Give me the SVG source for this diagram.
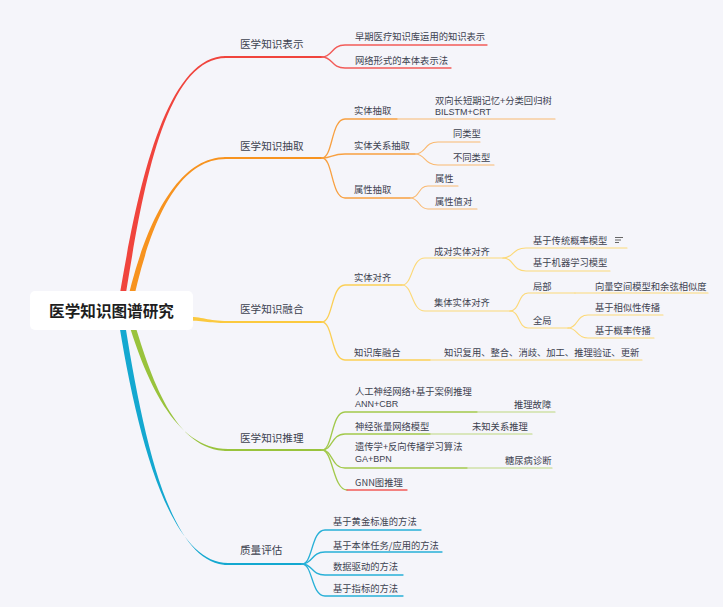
<svg xmlns="http://www.w3.org/2000/svg" width="723" height="607" viewBox="0 0 723 607">
<style>
text{font-family:"Noto Sans CJK SC","Noto Sans",sans-serif;fill:#3d4250}
.m{font-size:10.6px}
.c{font-size:9.3px}
.lat{font-family:"Liberation Sans","Noto Sans",sans-serif;font-size:9px}
.root{font-size:15.6px;font-weight:bold;fill:#1e1e1e}
.ln{fill:none;stroke-linecap:round}
.r{stroke:#f25b58;stroke-width:1.3}
.o{stroke:#f8a040;stroke-width:1.3}
.o2{stroke:#fab970;stroke-width:1.1}
.y{stroke:#fbcf55;stroke-width:1.3}
.y2{stroke:#fcd978;stroke-width:1.1}
.g{stroke:#a2c94b;stroke-width:1.3}
.g2{stroke:#bdd87f;stroke-width:1.1}
.b{stroke:#27b0d7;stroke-width:1.3}
.mr{stroke:#f0443d;stroke-width:1.8}
.mo{stroke:#f7931f;stroke-width:1.8}
.my{stroke:#fbc93f;stroke-width:1.8}
.mg{stroke:#99c33c;stroke-width:1.8}
.mb{stroke:#14a8d0;stroke-width:1.8}
</style>
<rect width="723" height="607" fill="#f5f5fa"/>
<g id="connectors">
  <path d="M117 311 C133 215 160 56 226 56 L226 58 C160 58 139 215 123 311 Z" fill="#f0443d"/>
  <path d="M125 311 C139 245 170 157 226 157 L226 159 C170 159 145 245 131 311 Z" fill="#f7931f"/>
  <path d="M185 316.5 C203 316.5 207 321 228 321 L228 323 C207 323 203 320.5 185 320.5 Z" fill="#fbc93f"/>
  <path d="M125 311 C145 380 175 449 228 449 L228 451 C175 451 151 380 131 311 Z" fill="#99c33c"/>
  <path d="M117 311 C137 440 170 563 228 563 L228 565 C170 565 143 440 123 311 Z" fill="#14a8d0"/>
  <path class="ln mr" d="M225 57 L322 57"/>
  <path class="ln mo" d="M225 158 L322 158"/>
  <path class="ln my" d="M225 322 L322 322"/>
  <path class="ln mg" d="M225 450 L322 450"/>
  <path class="ln mb" d="M225 564 L302 564"/>
  <path class="ln r" d="M322 57 C333 57 331 45 345 45 L487 45"/>
  <path class="ln r" d="M322 57 C333 57 331 68 345 68 L451 68"/>
  <path class="ln o" d="M322 158 C333 158 331 119 345 119 L397 119"/>
  <path class="ln o2" d="M397 119 L555 119"/>
  <path class="ln o" d="M322 158 C333 158 331 154 345 154 L415 154"/>
  <path class="ln o" d="M322 158 C333 158 331 198 345 198 L410 198"/>
  <path class="ln o2" d="M415 154 C426 154 424 142 438 142 L480 142"/>
  <path class="ln o2" d="M415 154 C426 154 424 165 438 165 L494 165"/>
  <path class="ln o2" d="M410 198 C420 198 418 186 428 186 L458 186"/>
  <path class="ln o2" d="M410 198 C420 198 418 209 428 209 L477 209"/>
  <path class="ln y" d="M322 322 C333 322 331 285 345 285 L402 285"/>
  <path class="ln y" d="M322 322 C333 322 331 360 345 360 L430 360"/>
  <path class="ln y2" d="M430 360 L642 360"/>
  <path class="ln y2" d="M402 285 C413 285 411 258 425 258 L503 258"/>
  <path class="ln y2" d="M402 285 C413 285 411 311 425 311 L510 311"/>
  <path class="ln y2" d="M503 258 C514 258 512 248 526 248 L627 248"/>
  <path class="ln y2" d="M503 258 C514 258 512 271 526 271 L610 271"/>
  <path class="ln y2" d="M510 311 C520 311 518 293 528 293 L575 293"/>
  <path class="ln y2" d="M575 293 L708 293"/>
  <path class="ln y2" d="M510 311 C520 311 518 328 528 328 L568 328"/>
  <path class="ln y2" d="M568 328 C578 328 576 315 588 315 L663 315"/>
  <path class="ln y2" d="M568 328 C578 328 576 338 588 338 L654 338"/>
  <path class="ln g" d="M322 450 C333 450 331 412 345 412 L477 412"/>
  <path class="ln g2" d="M477 412 L555 412"/>
  <path class="ln g" d="M322 450 C333 450 331 434 345 434 L430 434"/>
  <path class="ln g2" d="M430 434 L532 434"/>
  <path class="ln g" d="M322 450 C333 450 331 468 345 468 L467 468"/>
  <path class="ln g2" d="M467 468 L552 468"/>
  <path class="ln g" d="M322 450 C333 450 333 490 347 490"/>
  <path class="ln r" d="M347 490 L407 490"/>
  <path class="ln b" d="M302 564 C313 564 311 530 325 530 L421 530"/>
  <path class="ln b" d="M302 564 C313 564 311 552 325 552 L442 552"/>
  <path class="ln b" d="M302 564 C313 564 311 575 325 575 L403 575"/>
  <path class="ln b" d="M302 564 C313 564 311 596 325 596 L403 596"/>
</g>
<g id="root">
  <rect x="30" y="291" width="163" height="39" rx="5" fill="#ffffff"/>
  <text class="root" x="111.5" y="317" text-anchor="middle">医学知识图谱研究</text>
</g>
<g id="n-biaoshi">
  <text class="m" x="240" y="48">医学知识表示</text>
  <text class="c" x="355" y="40">早期医疗知识库运用的知识表示</text>
  <text class="c" x="355" y="63.5">网络形式的本体表示法</text>
</g>
<g id="n-chouqu">
  <text class="m" x="240" y="150">医学知识抽取</text>
  <text class="c" x="354" y="114">实体抽取</text>
  <text class="c" x="435" y="103.5">双向长短期记忆+分类回归树</text>
  <text class="lat" x="435" y="115">BILSTM+CRT</text>
  <text class="c" x="354" y="148.5">实体关系抽取</text>
  <text class="c" x="453" y="136.5">同类型</text>
  <text class="c" x="453" y="160.5">不同类型</text>
  <text class="c" x="354" y="192.5">属性抽取</text>
  <text class="c" x="435" y="181.5">属性</text>
  <text class="c" x="435" y="204.5">属性值对</text>
</g>
<g id="n-ronghe">
  <text class="m" x="240" y="313">医学知识融合</text>
  <text class="c" x="354" y="280.5">实体对齐</text>
  <text class="c" x="434" y="254.5">成对实体对齐</text>
  <text class="c" x="533" y="243.5">基于传统概率模型</text>
  <g stroke="#666" stroke-width="1">
    <path d="M615 237.5 H623 M615 240 H621 M615 242.5 H619"/>
  </g>
  <text class="c" x="533" y="265.5">基于机器学习模型</text>
  <text class="c" x="434" y="305.5">集体实体对齐</text>
  <text class="c" x="533" y="289.5">局部</text>
  <text class="c" x="595" y="289.5">向量空间模型和余弦相似度</text>
  <text class="c" x="533" y="323.5">全局</text>
  <text class="c" x="595" y="310.5">基于相似性传播</text>
  <text class="c" x="595" y="333.5">基于概率传播</text>
  <text class="c" x="354" y="355.5">知识库融合</text>
  <text class="c" x="444" y="355.5">知识复用、整合、消歧、加工、推理验证、更新</text>
</g>
<g id="n-tuili">
  <text class="m" x="240" y="442">医学知识推理</text>
  <text class="c" x="355" y="394.5">人工神经网络+基于案例推理</text>
  <text class="lat" x="355" y="407">ANN+CBR</text>
  <text class="c" x="514" y="407.5">推理故障</text>
  <text class="c" x="355" y="429.5">神经张量网络模型</text>
  <text class="c" x="472" y="429.5">未知关系推理</text>
  <text class="c" x="355" y="450">遗传学+反向传播学习算法</text>
  <text class="lat" x="355" y="462">GA+BPN</text>
  <text class="c" x="505" y="463.5">糖尿病诊断</text>
  <text class="c" x="355" y="485.5">GNN图推理</text>
</g>
<g id="n-pinggu">
  <text class="m" x="240" y="554">质量评估</text>
  <text class="c" x="333" y="524.5">基于黄金标准的方法</text>
  <text class="c" x="333" y="548.5">基于本体任务/应用的方法</text>
  <text class="c" x="333" y="569.5">数据驱动的方法</text>
  <text class="c" x="333" y="591.5">基于指标的方法</text>
</g>
</svg>
